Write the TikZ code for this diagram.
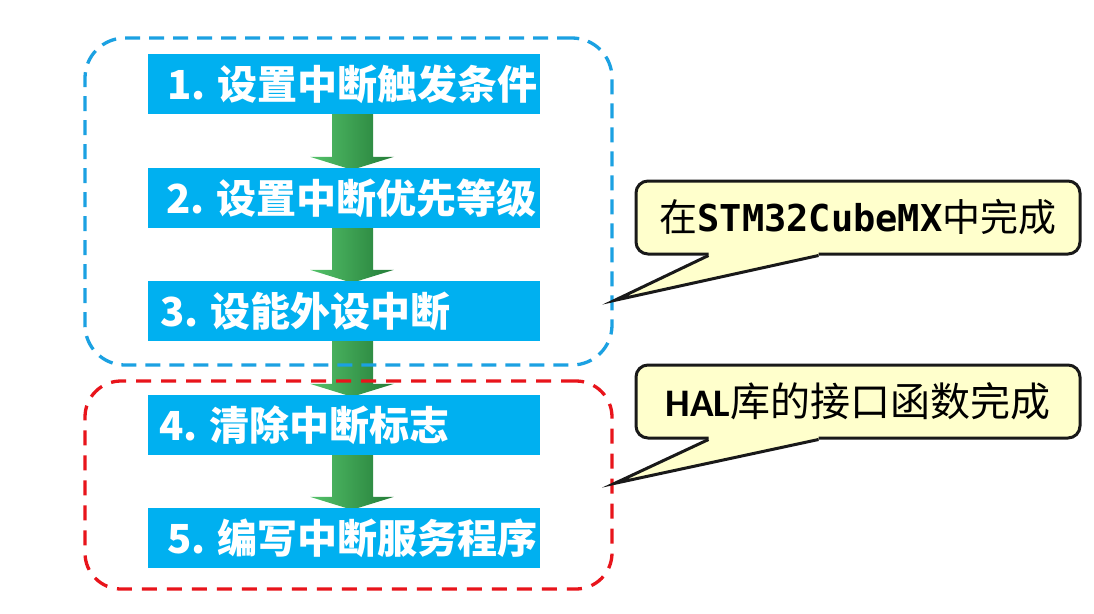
\documentclass[tikz,border=0pt]{standalone}
\usepackage{fontspec}
\usetikzlibrary{calc,backgrounds}
\newfontfamily\cjk{Noto Sans CJK SC}
\newfontfamily\monob{DejaVu Sans Mono}
\newfontfamily\carb{Carlito}
\definecolor{boxblue}{RGB}{0,176,240}
\definecolor{dashblue}{RGB}{27,161,226}
\definecolor{dashred}{RGB}{232,20,27}
\definecolor{callfill}{RGB}{255,255,204}
\definecolor{glight}{RGB}{84,194,106}
\definecolor{gdark}{RGB}{36,124,56}
\newcommand\greenarrow[2]{%
  \path[left color=glight,right color=gdark]
    ($(#1.south)+(-12,0)$) -- ($(#2.north)+(-12,-11)$) -- ($(#2.north)+(-34,-11)$)
    -- ($(#2.north)+(8,2)$) -- ($(#2.north)+(50,-11)$) -- ($(#2.north)+(29,-11)$)
    -- ($(#1.south)+(29,0)$) -- cycle;}
\begin{document}
\begin{tikzpicture}[x=1pt,y=-1pt,
  stepbox/.style={fill=boxblue,minimum width=392pt,minimum height=60pt,inner sep=0pt},
  boxtext/.style={font=\cjk\bfseries\fontsize{40}{44}\selectfont,text=white,inner sep=0pt,anchor=west},
  bluegroup/.style={draw=dashblue,line width=3.3pt,dash pattern=on 15pt off 9pt,rounded corners=40pt,minimum width=527pt,minimum height=327pt},
  redgroup/.style={draw=dashred,line width=3.3pt,dash pattern=on 15pt off 10pt,rounded corners=36pt,minimum width=527pt,minimum height=208pt},
  callbox/.style={draw=black!90,line width=3pt,fill=callfill,rounded corners=12pt,minimum width=444pt,minimum height=73pt,inner sep=0pt},
  callline/.style={draw=black!90,line width=3pt,line join=miter}
]
\useasboundingbox (0,0) rectangle (1094,613);

\node[stepbox] (b1) at (344,84) {};
\node[stepbox] (b2) at (344,198) {};
\node[stepbox] (b3) at (344,311) {};
\node[stepbox] (b4) at (344,425) {};
\node[stepbox] (b5) at (344,538) {};

\begin{scope}[on background layer]
\fill[white] (0,0) rectangle (1094,613);
\greenarrow{b1}{b2}
\greenarrow{b2}{b3}
\greenarrow{b3}{b4}
\greenarrow{b4}{b5}
\end{scope}

\node[boxtext] (t1) at ($(b1.west)+(19,0)$) {1. 设置中断触发条件};
\node[boxtext] (t2) at ($(b2.west)+(18,0)$) {2. 设置中断优先等级};
\node[boxtext] (t3) at ($(b3.west)+(12,0)$) {3. 设能外设中断};
\node[boxtext] (t4) at ($(b4.west)+(11,0)$) {4. 清除中断标志};
\node[boxtext] (t5) at ($(b5.west)+(19,0)$) {5. 编写中断服务程序};

\node[bluegroup] (g1) at (348.5,201.5) {};
\node[redgroup] (g2) at (348.5,485) {};

\node[callbox] (c1) at (858,217.5) {{\cjk\fontsize{38}{40}\selectfont 在}{\monob\bfseries\fontsize{37}{40}\selectfont STM32CubeMX}{\cjk\fontsize{38}{40}\selectfont 中完成}};
\node[callbox] (c2) at (858,401.5) {{\carb\bfseries\fontsize{39}{40}\selectfont HAL}{\cjk\fontsize{40}{42}\selectfont 库的接口函数完成}};

\coordinate (p1) at ($(g1.north east)+(1,264)$);
\coordinate (p2) at ($(g2.north east)+(1,104)$);

\foreach \c/\p in {c1/p1,c2/p2}{
  \fill[callfill] ($(\c.south west)+(74,-3.5)$) -- ($(\c.south west)+(74,0)$) -- (\p)
     -- ($(\c.south west)+(184,0)$) -- ($(\c.south west)+(184,-3.5)$) -- cycle;
  \draw[callline] ($(\c.south west)+(74,0)$) -- (\p) -- ($(\c.south west)+(184,0)$);
}
\end{tikzpicture}
\end{document}
